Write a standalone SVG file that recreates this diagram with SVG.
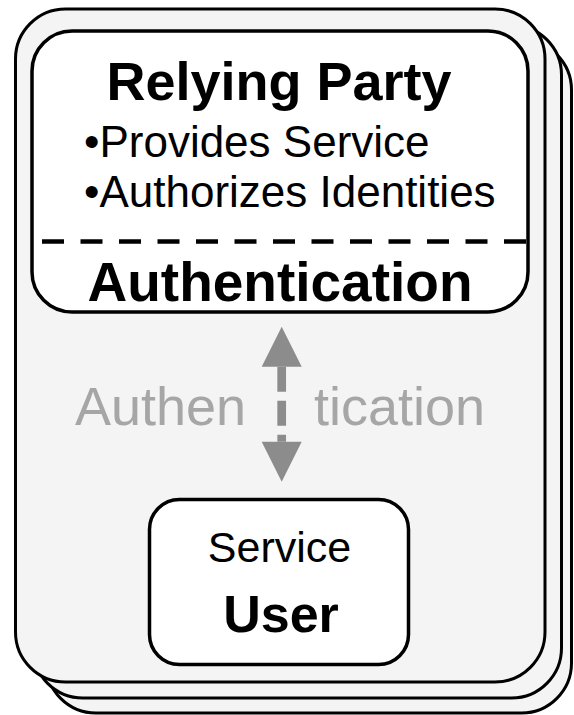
<svg xmlns="http://www.w3.org/2000/svg" width="574" height="715" viewBox="0 0 574 715">
  <style>
    .card { fill: #f4f4f4; stroke: #000; stroke-width: 3; }
    .box { fill: #fff; stroke: #000; stroke-width: 3.5; }
    .bold { font-family: "Liberation Sans", Arial, sans-serif; font-weight: bold; fill: #000; }
    .reg { font-family: "Liberation Sans", Arial, sans-serif; fill: #000; }
    .faint { font-family: "Liberation Sans", Arial, sans-serif; fill: #a6a6a6; }
    .arrow { fill: #8c8c8c; }
  </style>
  <rect width="574" height="715" fill="#fff"/>

  <!-- stacked background cards -->
  <g id="stack">
    <rect class="card" x="46" y="40" width="525.5" height="673" rx="50"/>
    <rect class="card" x="33" y="25" width="528.5" height="673" rx="50"/>
    <rect class="card" x="15.5" y="9" width="529.5" height="673" rx="50"/>
  </g>

  <!-- relying party node -->
  <g id="relying-party">
    <rect class="box" x="32" y="31" width="496" height="281" rx="40"/>
    <text class="bold" x="279" y="100" font-size="54" text-anchor="middle">Relying Party</text>
    <text class="reg" x="84" y="157" font-size="44">•Provides Service</text>
    <text class="reg" x="84" y="207" font-size="44">•Authorizes Identities</text>
    <line x1="42" y1="241.5" x2="528" y2="241.5" stroke="#000" stroke-width="4.5" stroke-dasharray="22 16.5"/>
    <text class="bold" x="280" y="301" font-size="55" text-anchor="middle">Authentication</text>
  </g>

  <!-- service user node -->
  <g id="service-user">
    <rect class="box" x="149.5" y="499.5" width="259" height="165" rx="30"/>
    <text class="reg" x="279.5" y="562" font-size="43" text-anchor="middle">Service</text>
    <text class="bold" x="281" y="632" font-size="52" text-anchor="middle">User</text>
  </g>

  <!-- connector -->
  <g id="connectors">
    <text class="faint" x="75" y="425" font-size="54">Authen</text>
    <text class="faint" x="314" y="425" font-size="54">tication</text>
    <polygon class="arrow" points="281.7,326.7 301.7,366.7 261.7,366.7"/>
    <line x1="281.7" y1="366.7" x2="281.7" y2="441.7" stroke="#8c8c8c" stroke-width="8.7" stroke-dasharray="25 9"/>
    <polygon class="arrow" points="261.7,441.7 301.7,441.7 281.7,481.7"/>
  </g>
</svg>
